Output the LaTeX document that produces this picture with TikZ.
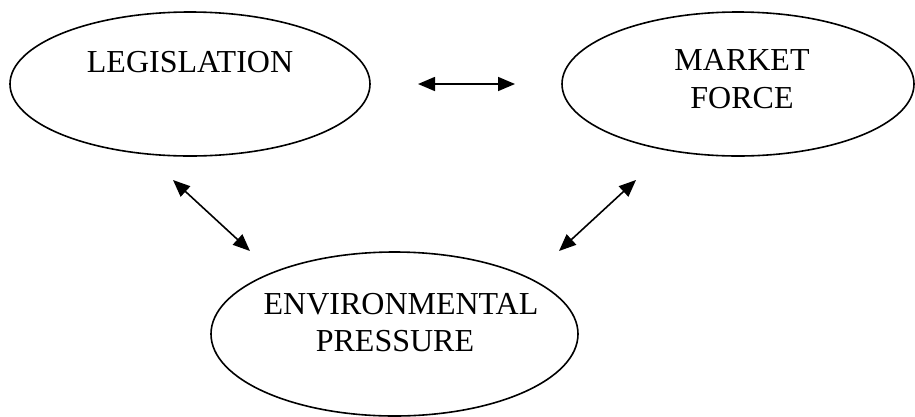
\documentclass[tikz,border=0pt]{standalone}
\usepackage{fontspec}
\setmainfont{Liberation Serif}
\usetikzlibrary{shapes.geometric,arrows.meta}
\begin{document}
\begin{tikzpicture}[x=1pt,y=-1pt,
  oval/.style={draw,ellipse,line width=1.6pt,inner sep=0pt,outer sep=0pt},
  lbl/.style={anchor=base,inner sep=0pt,font=\fontsize{32}{37}\selectfont},
  link/.style={line width=1.6pt,{Triangle[length=17pt,width=14pt]}-{Triangle[length=17pt,width=14pt]}}]
\useasboundingbox (0,0) rectangle (915,416);
\node[oval,minimum width=360pt,minimum height=144pt] (leg) at (190,84) {};
\node[oval,minimum width=352pt,minimum height=144pt] (mkt) at (738,84) {};
\node[oval,minimum width=367pt,minimum height=164pt] (env) at (394.5,334) {};
\node[lbl] (legt) at (190,72) {LEGISLATION};
\node[lbl] (mktt1) at (742,70) {MARKET};
\node[lbl] (mktt2) at (742,108) {FORCE};
\node[lbl] (envt1) at (401,314) {ENVIRONMENTAL};
\node[lbl] (envt2) at (395,351) {PRESSURE};
\coordinate (h1) at (418,84);
\coordinate (h2) at (515,84);
\coordinate (l1) at (173,180);
\coordinate (l2) at (250,251);
\coordinate (r1) at (636,180);
\coordinate (r2) at (559,251);
\draw[link] (h1) -- (h2);
\draw[link] (l1) -- (l2);
\draw[link] (r1) -- (r2);
\end{tikzpicture}
\end{document}
